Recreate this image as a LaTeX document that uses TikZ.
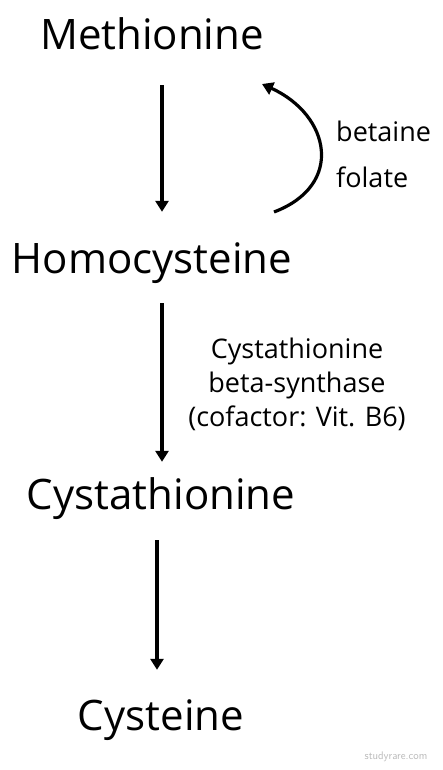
\documentclass[tikz,border=0pt]{standalone}
\usepackage{fontspec}
\setmainfont{Open Sans}
\usetikzlibrary{arrows.meta}

\tikzset{
	compound/.style={inner sep=0pt, text height=30pt, text depth=9pt, font=\fontsize{42}{48}\selectfont},
	enzyme/.style={inner sep=0pt, align=center, font=\fontsize{27}{34}\selectfont},
	step arrow/.style={-{Triangle[width=13pt,length=11pt]}, line width=3.2pt},
}

\begin{document}
\begin{tikzpicture}[x=1pt,y=-1pt]
	
	\useasboundingbox (0,0) rectangle (442,770);
	
	\node[compound] (met) at (152, 39.5)     {Methionine};
	\node[compound] (hom) at (152, 262.5)    {Homocysteine};
	\node[compound] (cth) at (161, 498.5)    {Cystathionine};
	\node[compound] (cys) at (161, 719.5)    {Cysteine};
	
	\node[enzyme, anchor=base west] (bet) at (336, 142)  {betaine};
	\node[enzyme, anchor=base west] (fol) at (336, 187)  {folate};
	\node[enzyme] (cbs) at (297, 384)  {Cystathionine\\beta-synthase\\(cofactor: Vit. B6)};
	
	\node[inner sep=0pt, text=gray!55, font=\fontsize{11}{13}\selectfont\sffamily] (wm) at (396, 757) {studyrare.com};
	
	\coordinate (fs) at (274, 212);
	\coordinate (fe) at (262, 84);
	
	\path[step arrow] ([xshift=10pt]met.south) edge[shorten <=26pt, shorten >=31pt] ([xshift=10pt]hom.north);
	\path[step arrow] ([xshift=10pt]hom.south) edge[shorten <=21pt, shorten >=17pt] ([xshift=1pt]cth.north);
	\path[step arrow] ([xshift=-4pt]cth.south) edge[shorten <=22pt, shorten >=30pt] ([xshift=-4pt]cys.north);
	
	\draw[step arrow] (fs) .. controls (345, 185) and (330, 115) .. (fe);
	
\end{tikzpicture}
\end{document}
